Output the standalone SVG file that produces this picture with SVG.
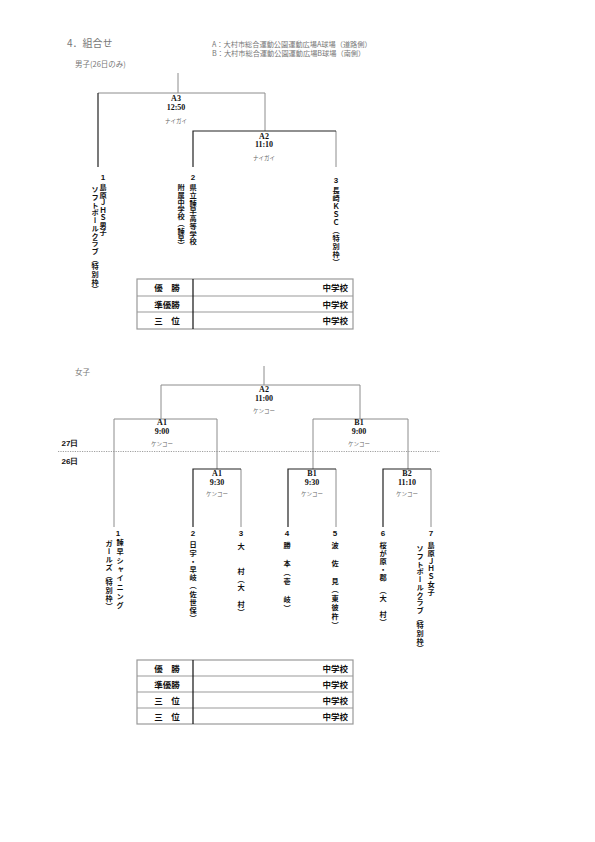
<svg xmlns="http://www.w3.org/2000/svg" width="595" height="842" viewBox="0 0 595 842">
<style>
.g{stroke:#8c8c8c;stroke-width:1;fill:none}
.d{stroke:#222;stroke-width:1.2;fill:none}
.hdr{font-family:"Noto Sans CJK JP","Liberation Sans",sans-serif;fill:#777}
.lb{font-family:"Liberation Serif","Noto Sans CJK JP",serif;font-weight:bold;font-size:8px;fill:#111;text-anchor:middle}
.sm{font-family:"Noto Sans CJK JP",sans-serif;font-size:5.5px;fill:#666;text-anchor:middle}
.num{font-family:"Liberation Sans",sans-serif;font-weight:bold;font-size:8px;fill:#111;text-anchor:middle}
.v{font-family:"Noto Sans CJK JP",sans-serif;font-weight:bold;font-size:7.2px;fill:#111;writing-mode:vertical-rl}
.tb{font-family:"Noto Sans CJK JP",sans-serif;font-weight:bold;font-size:8.5px;fill:#111}
</style>
<rect width="595" height="842" fill="#fff"/>
<g id="header">
<text class="hdr" x="67" y="47" font-size="10">4．組合せ</text>
<text class="hdr" x="212" y="46.5" font-size="7.2">A：大村市総合運動公園運動広場A球場（道路側）</text>
<text class="hdr" x="212" y="55.5" font-size="7.2">B：大村市総合運動公園運動広場B球場（南側）</text>
<text class="hdr" x="75" y="67" font-size="7.5">男子(26日のみ)</text>
<text class="hdr" x="75" y="375" font-size="7.5">女子</text>
</g>
<g id="connectors">
<path class="g" d="M178 73V93M98 93H265M265 93V131M336 131V167"/>
<path class="d" d="M98 93V167M193 167V131H336"/>
<path class="g" d="M264 366V385M161 419V385H360V419M114 527V419H217V469M313 469V419H408V469M241 469V527M336 469V527M431 469V527"/>
<path class="d" d="M193 527V469H241M288 527V469H336M383 527V469H431"/>
<line x1="58" y1="451.5" x2="440" y2="451.5" stroke="#888" stroke-width="0.8" stroke-dasharray="1.2 1.2"/>
</g>
<g id="match-boys-A3">
<text class="lb" x="176" y="101">A3</text>
<text class="lb" x="176" y="109.5">12:50</text>
<text class="sm" x="176" y="123">ナイガイ</text>
</g>
<g id="match-boys-A2">
<text class="lb" x="264" y="139">A2</text>
<text class="lb" x="264" y="147">11:10</text>
<text class="sm" x="264" y="159.5">ナイガイ</text>
</g>
<g id="boys-team1">
<text class="num" x="103" y="180">1</text>
<text class="v" x="103" y="184" letter-spacing="0.3">島原ＪＨＳ男子</text>
<text class="v" x="95" y="186" letter-spacing="0.5">ソフトボールクラブ（特別枠）</text>
</g>
<g id="boys-team2">
<text class="num" x="193" y="180">2</text>
<text class="v" x="193" y="184" letter-spacing="0.5">県立諫早高等学校</text>
<text class="v" x="181" y="184" letter-spacing="0">附属中学校（諫早）</text>
</g>
<g id="boys-team3">
<text class="num" x="336" y="183">3</text>
<text class="v" x="336" y="187" letter-spacing="0.8">長崎ＫＳＣ（特別枠）</text>
</g>
<g id="boys-results">
<rect x="137" y="279" width="216" height="50" fill="none" stroke="#999" stroke-width="1.2"/>
<path d="M137 296H353M137 312H353" stroke="#999" stroke-width="1"/>
<path d="M193 279V329" stroke="#111" stroke-width="1.2"/>
<text class="tb" x="167" y="291" text-anchor="middle">優　勝</text>
<text class="tb" x="167" y="307.5" text-anchor="middle">準優勝</text>
<text class="tb" x="167" y="324" text-anchor="middle">三　位</text>
<text class="tb" x="348" y="291" text-anchor="end">中学校</text>
<text class="tb" x="348" y="307.5" text-anchor="end">中学校</text>
<text class="tb" x="348" y="324" text-anchor="end">中学校</text>
</g>
<g id="date-labels">
<text class="num" x="70" y="446" font-size="7" text-anchor="middle" font-family="Noto Sans CJK JP">27日</text>
<text class="num" x="70" y="464" font-size="7" text-anchor="middle" font-family="Noto Sans CJK JP">26日</text>
</g>
<g id="match-girls-A2">
<text class="lb" x="264" y="392">A2</text>
<text class="lb" x="264" y="401">11:00</text>
<text class="sm" x="264" y="412.5">ケンコー</text>
</g>
<g id="match-girls-A1-upper">
<text class="lb" x="162" y="425">A1</text>
<text class="lb" x="162" y="434">9:00</text>
<text class="sm" x="162" y="445.5">ケンコー</text>
</g>
<g id="match-girls-B1-upper">
<text class="lb" x="359" y="425">B1</text>
<text class="lb" x="359" y="434">9:00</text>
<text class="sm" x="359" y="445.5">ケンコー</text>
</g>
<g id="match-girls-A1-lower">
<text class="lb" x="217" y="476">A1</text>
<text class="lb" x="217" y="484.5">9:30</text>
<text class="sm" x="217" y="495.5">ケンコー</text>
</g>
<g id="match-girls-B1-lower">
<text class="lb" x="312" y="476">B1</text>
<text class="lb" x="312" y="484.5">9:30</text>
<text class="sm" x="312" y="495.5">ケンコー</text>
</g>
<g id="match-girls-B2">
<text class="lb" x="407" y="476">B2</text>
<text class="lb" x="407" y="484.5">11:10</text>
<text class="sm" x="407" y="495.5">ケンコー</text>
</g>
<g id="girls-team1">
<text class="num" x="118" y="536">1</text>
<text class="v" x="120" y="539" letter-spacing="1.8">諫早シャイニング</text>
<text class="v" x="109" y="540" letter-spacing="0.6">ガールズ（特別枠）</text>
</g>
<g id="girls-team2">
<text class="num" x="193" y="536">2</text>
<text class="v" x="193" y="541" letter-spacing="1">日宇・早岐（佐世保）</text>
</g>
<g id="girls-team3">
<text class="num" x="241" y="536">3</text>
<text class="v" x="241" y="543" letter-spacing="1">大　　村（大　村）</text>
</g>
<g id="girls-team4">
<text class="num" x="287" y="536">4</text>
<text class="v" x="287" y="542" letter-spacing="1.8">勝　本（壱　岐）</text>
</g>
<g id="girls-team5">
<text class="num" x="335" y="536">5</text>
<text class="v" x="335" y="542" letter-spacing="1.6">波　佐　見（東彼杵）</text>
</g>
<g id="girls-team6">
<text class="num" x="383" y="536">6</text>
<text class="v" x="383" y="542" letter-spacing="0.8">桜が原・郡　（大　村）</text>
</g>
<g id="girls-team7">
<text class="num" x="431" y="536">7</text>
<text class="v" x="431" y="542" letter-spacing="0.5">島原ＪＨＳ女子</text>
<text class="v" x="420" y="545" letter-spacing="0.5">ソフトボールクラブ（特別枠）</text>
</g>
<g id="girls-results">
<rect x="137" y="660" width="216" height="64" fill="none" stroke="#999" stroke-width="1.2"/>
<path d="M137 676H353M137 692H353M137 708H353" stroke="#999" stroke-width="1"/>
<path d="M193 660V724" stroke="#111" stroke-width="1.2"/>
<text class="tb" x="167" y="671.5" text-anchor="middle">優　勝</text>
<text class="tb" x="167" y="687.5" text-anchor="middle">準優勝</text>
<text class="tb" x="167" y="703.5" text-anchor="middle">三　位</text>
<text class="tb" x="167" y="719.5" text-anchor="middle">三　位</text>
<text class="tb" x="348" y="671.5" text-anchor="end">中学校</text>
<text class="tb" x="348" y="687.5" text-anchor="end">中学校</text>
<text class="tb" x="348" y="703.5" text-anchor="end">中学校</text>
<text class="tb" x="348" y="719.5" text-anchor="end">中学校</text>
</g>
</svg>
